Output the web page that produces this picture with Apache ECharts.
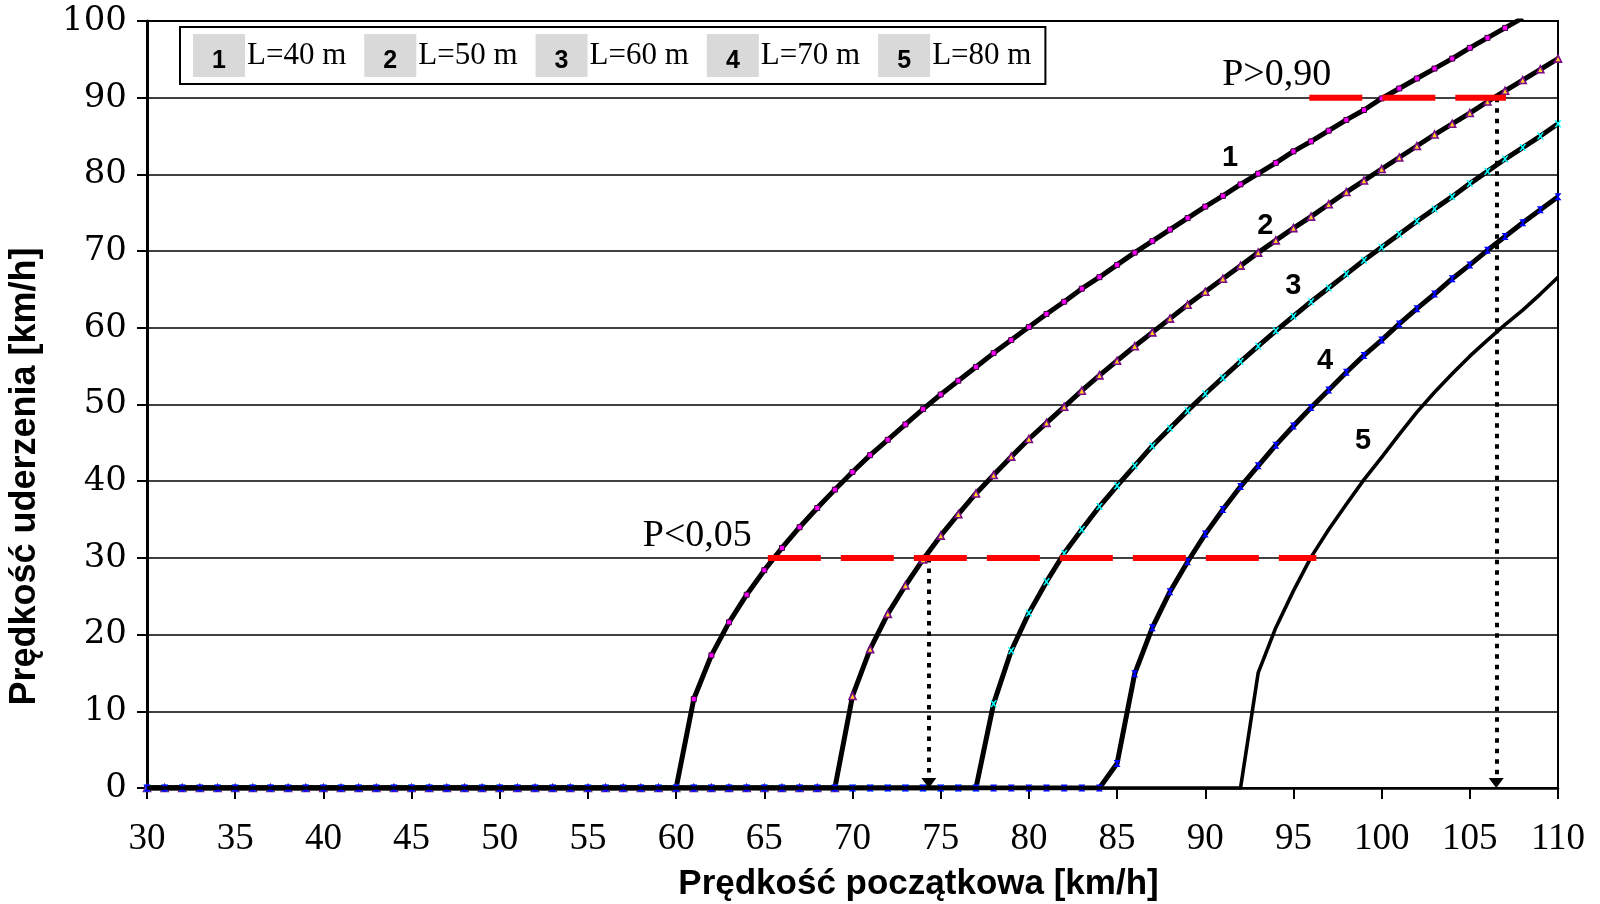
<!DOCTYPE html>
<html>
<head>
<meta charset="utf-8">
<script src="https://cdn.jsdelivr.net/npm/echarts@6/dist/echarts.min.js"></script>
<style>
html,body{margin:0;padding:0;background:#fff;}
#chart{width:1600px;height:904px;}
</style>
</head>
<body>
<div id="chart"></div>
<script>
// ---- data ----
var speeds = [30,31,32,33,34,35,36,37,38,39,40,41,42,43,44,45,46,47,48,49,50,51,52,53,54,55,56,57,58,59,60,61,62,63,64,65,66,67,68,69,70,71,72,73,74,75,76,77,78,79,80,81,82,83,84,85,86,87,88,89,90,91,92,93,94,95,96,97,98,99,100,101,102,103,104,105,106,107,108,109,110];

var curve1 = [0,0,0,0,0,0,0,0,0,0,0,0,0,0,0,0,0,0,0,0,0,0,0,0,0,0,0,0,0,0,0,
  11.6,17.3,21.6,25.2,28.4,31.3,34.0,36.5,38.9,41.2,43.4,45.4,47.4,49.4,51.3,53.1,54.9,56.7,58.4,60.1,
  61.8,63.4,65.1,66.6,68.2,69.8,71.3,72.8,74.3,75.8,77.2,78.7,80.1,81.5,83.0,84.3,85.7,87.1,88.4,89.9,
  91.2,92.5,93.8,95.1,96.5,97.8,99.1,100.4,null,null];

var curve2 = [0,0,0,0,0,0,0,0,0,0,0,0,0,0,0,0,0,0,0,0,0,0,0,0,0,0,0,0,0,0,0,0,0,0,0,0,0,0,0,0,
  12.0,18.1,22.7,26.4,29.8,32.9,35.7,38.4,40.8,43.2,45.5,47.6,49.7,51.8,53.8,55.7,57.6,59.4,61.2,63.0,
  64.7,66.4,68.1,69.8,71.4,73.0,74.5,76.1,77.7,79.2,80.7,82.2,83.7,85.2,86.6,88.0,89.5,90.9,92.3,93.7,95.1];

var curve3 = [0,0,0,0,0,0,0,0,0,0,0,0,0,0,0,0,0,0,0,0,0,0,0,0,0,0,0,0,0,0,0,0,0,0,0,0,0,0,0,0,0,0,0,0,0,0,0,0,
  11.0,17.9,22.8,26.9,30.6,33.7,36.7,39.4,42.0,44.6,46.9,49.2,51.4,53.5,55.6,57.6,59.6,61.5,63.4,65.2,
  67.0,68.8,70.5,72.2,73.9,75.5,77.1,78.8,80.4,82.0,83.5,85.0,86.6];

var curve4 = [0,0,0,0,0,0,0,0,0,0,0,0,0,0,0,0,0,0,0,0,0,0,0,0,0,0,0,0,0,0,0,0,0,0,0,0,0,0,0,0,0,0,0,0,0,0,0,0,0,0,0,0,0,0,0,
  3.2,14.9,20.9,25.6,29.5,33.1,36.3,39.3,42.0,44.7,47.2,49.6,51.9,54.2,56.4,58.4,60.5,62.5,64.4,66.4,
  68.2,70.1,71.9,73.7,75.4,77.1];

var curve5 = [0,0,0,0,0,0,0,0,0,0,0,0,0,0,0,0,0,0,0,0,0,0,0,0,0,0,0,0,0,0,0,0,0,0,0,0,0,0,0,0,0,0,0,0,0,0,0,0,0,0,0,0,0,0,0,0,0,0,0,0,0,0,0,
  15.0,20.9,25.7,30.1,33.7,37.0,40.2,43.1,46.1,49.0,51.6,54.0,56.3,58.4,60.4,62.3,64.4,66.6];

var seriesNames = ['L=40 m','L=50 m','L=60 m','L=70 m','L=80 m'];
var seriesNums = ['1','2','3','4','5'];
var yTicks = [0,10,20,30,40,50,60,70,80,90,100];
var xTicks = [30,35,40,45,50,55,60,65,70,75,80,85,90,95,100,105,110];

// curve number labels (x, y)
var curveLabelX = [91.4, 93.4, 95.0, 96.8, 98.95];
var curveLabelY = [82.2, 73.3, 65.5, 55.7, 45.3];

// probability thresholds
var pTexts = ['P<0,05', 'P>0,90'];
var pTextX = [61.2, 94.05];
var pTextY = [32.9, 93.0];
var redLevels = [30, 90];
var redFrom = [65.2, 95.9];
var redTo = [96.3, 107.05];

// dotted arrows
var arrowX = [74.33, 106.5];
var arrowTop = [30, 90];
var arrowBottom = 0.65;

// ---- build ----
function pairs(vals){
  var out = [];
  for (var i = 0; i < speeds.length; i++) out.push([speeds[i], vals[i]]);
  return out;
}
var curves = [curve1, curve2, curve3, curve4, curve5];
var symbols = ['rect', 'triangle',
  'path://M0,0L2.5,0L5,3.2L7.5,0L10,0L6.4,5L10,10L7.5,10L5,6.8L2.5,10L0,10L3.6,5Z',
  'path://M0,0L10,0L6,5L10,10L0,10L4,5Z', 'none'];
var symSizes = [5, 7, 7, 7, 0];
var symStyles = [
  {color:'#ff00ff', borderColor:'#3a003a', borderWidth:1},
  {color:'#ffd21a', borderColor:'#7a0a8a', borderWidth:1.6},
  {color:'#00ffff', borderWidth:0},
  {color:'#0000ff', borderWidth:0},
  {color:'#000'}
];
var lineWidths = [5, 5, 5, 5, 3.6];

var series = [];
for (var k = 0; k < 5; k++) {
  series.push({
    name: seriesNames[k],
    type: 'line',
    data: pairs(curves[k]),
    symbol: symbols[k],
    symbolSize: symSizes[k],
    showSymbol: k < 4,
    showAllSymbol: true,
    itemStyle: symStyles[k],
    lineStyle: {color:'#000', width: lineWidths[k], join:'round'},
    emphasis: {disabled: true},
    silent: true,
    z: 2 + k
  });
}
for (var r = 0; r < redLevels.length; r++) {
  series.push({
    type: 'line',
    data: [[redFrom[r], redLevels[r]], [redTo[r], redLevels[r]]],
    symbol: 'none',
    lineStyle: {color:'#ff0000', width: 6, type: [53, 20], cap: 'butt'},
    silent: true,
    z: 10
  });
}
var arrowData = [];
for (var a = 0; a < arrowX.length; a++) {
  arrowData.push([{coord:[arrowX[a], arrowTop[a]]}, {coord:[arrowX[a], arrowBottom]}]);
}
series.push({
  type: 'line',
  data: [],
  silent: true,
  z: 11,
  markLine: {
    silent: true,
    symbol: ['none', 'triangle'],
    symbolSize: [15, 10],
    label: {show: false},
    lineStyle: {type: [4.5, 6], width: 4, color: '#000', cap:'butt'},
    itemStyle: {color:'#000'},
    emphasis: {disabled: true},
    data: arrowData
  }
});
var numData = [];
for (var n = 0; n < 5; n++) numData.push({value:[curveLabelX[n], curveLabelY[n]], name: seriesNums[n]});
series.push({
  type: 'scatter',
  data: numData,
  symbolSize: 1,
  itemStyle: {color: 'rgba(0,0,0,0)', opacity: 1},
  silent: true,
  z: 12,
  label: {show: true, position: 'inside', formatter: '{b}', color:'#000', opacity: 1,
    textBorderWidth: 0, fontFamily: 'Liberation Sans', fontWeight: 'bold', fontSize: 29}
});
var pData = [];
for (var p = 0; p < pTexts.length; p++) pData.push({value:[pTextX[p], pTextY[p]], name: pTexts[p]});
series.push({
  type: 'scatter',
  data: pData,
  symbolSize: 1,
  itemStyle: {color: 'rgba(0,0,0,0)', opacity: 1},
  silent: true,
  z: 12,
  label: {show: true, position: 'inside', formatter: '{b}', color:'#000', opacity: 1,
    textBorderWidth: 0, fontFamily: 'Liberation Serif', fontSize: 38}
});

var chart = echarts.init(document.getElementById('chart'), null, {renderer:'canvas'});
chart.setOption({
  animation: false,
  backgroundColor: '#fff',
  grid: {left: 147, right: 42, top: 21, bottom: 116, show: true, borderColor:'#000', borderWidth: 2,
    backgroundColor:'transparent', containLabel: false, outerBoundsMode: 'none'},
  legend: {
    left: 180, top: 27,
    padding: [7, 14, 7, 8],
    itemGap: 13,
    itemWidth: 0, itemHeight: 0,
    icon: 'none',
    selectedMode: false,
    borderColor: '#000', borderWidth: 2,
    backgroundColor: '#fff',
    data: seriesNames,
    formatter: function(name){
      var i = seriesNames.indexOf(name);
      return '{n|' + seriesNums[i] + '}{t|' + name + '}';
    },
    textStyle: {
      rich: {
        n: {width: 52, height: 31, lineHeight: 31, padding: [12, 0, 0, 0], backgroundColor:'#d9d9d9', align:'center',
            fontFamily:'Liberation Sans', fontWeight:'bold', fontSize: 25, color:'#000'},
        t: {fontFamily:'Liberation Serif', fontSize: 31, color:'#000', padding:[0,0,0,2]}
      }
    }
  },
  xAxis: {
    type: 'value', min: xTicks[0], max: xTicks[xTicks.length-1], interval: 5,
    axisLine: {show: true, onZero: false, lineStyle: {color:'#000', width: 2.5}},
    axisTick: {show: true, length: 11, lineStyle: {color:'#000', width: 2}},
    axisLabel: {fontFamily:'Liberation Serif', fontSize: 37, color:'#000', margin: 33},
    splitLine: {show: false},
    name: 'Prędkość początkowa [km/h]',
    nameLocation: 'middle', nameGap: 79,
    nameTextStyle: {fontFamily:'Liberation Sans', fontWeight:'bold', fontSize: 35, color:'#000', padding:[0,0,0,132]}
  },
  yAxis: {
    type: 'value', min: yTicks[0], max: yTicks[yTicks.length-1], interval: 10,
    axisLine: {show: true, lineStyle: {color:'#000', width: 3}},
    axisTick: {show: true, length: 10, lineStyle: {color:'#000', width: 2}},
    axisLabel: {fontFamily:'DejaVu Serif', fontSize: 34, color:'#000', margin: 20},
    splitLine: {show: true, lineStyle: {color:'#000', width: 1.5}},
    name: 'Prędkość uderzenia [km/h]',
    nameLocation: 'middle', nameGap: 104,
    nameTextStyle: {fontFamily:'Liberation Sans', fontWeight:'bold', fontSize: 36, color:'#000', padding:[0,144,0,0]}
  },
  series: series
});
</script>
</body>
</html>
